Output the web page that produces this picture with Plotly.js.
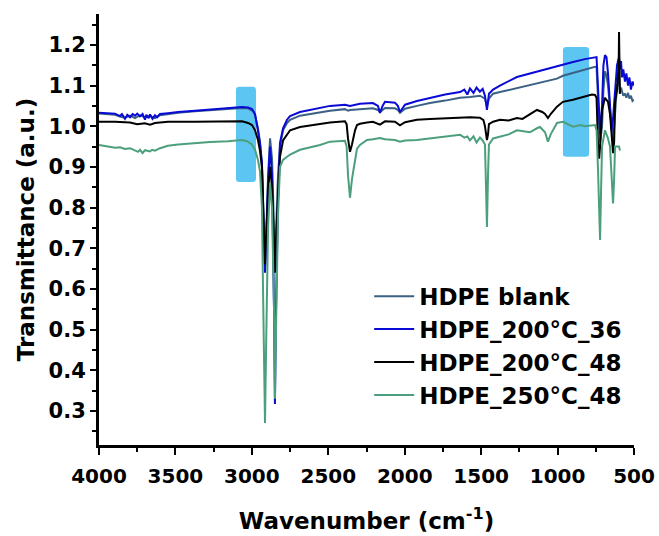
<!DOCTYPE html>
<html>
<head>
<meta charset="utf-8">
<script src="https://cdn.plot.ly/plotly-3.0.1.min.js"></script>
<style>html,body{margin:0;padding:0;background:#fff;}#chart{width:659px;height:536px;}</style>
</head>
<body>
<div id="chart"></div>
<script>
const seriesNames = ["HDPE blank", "HDPE_200°C_36", "HDPE_200°C_48", "HDPE_250°C_48"];

const wnBlank = [4000,3961,3928,3895,3863,3830,3797,3764,3732,3699,3666,3634,3601,3549,3483,3372,3274,3156,3064,3025,2992,2979,2960,2947,2934,2927,2921,2914,2907,2894,2881,2868,2855,2849,2842,2829,2816,2796,2770,2750,2685,2554,2489,2391,2371,2358,2293,2208,2175,2162,2145,2129,2064,2045,2031,2015,1998,1920,1835,1736,1638,1573,1508,1475,1462,1449,1422,1377,1266,1181,1082,1004,965,899,821,755,745,736,722,709,700,690,680,670,657,647,637,624,611,598,592,585,578,570,559,550,539,530,520,510,500];
const tBlank = [1.031,1.030,1.029,1.028,1.024,1.021,1.026,1.020,1.027,1.022,1.025,1.020,1.027,1.030,1.033,1.037,1.040,1.043,1.045,1.044,1.037,1.026,0.995,0.960,0.900,0.800,0.700,0.650,0.720,0.880,0.970,0.920,0.750,0.660,0.740,0.880,0.950,0.990,1.008,1.016,1.026,1.034,1.038,1.042,1.038,1.040,1.042,1.044,1.040,1.034,1.040,1.045,1.044,1.040,1.033,1.038,1.043,1.050,1.057,1.063,1.070,1.072,1.075,1.068,1.050,1.068,1.080,1.084,1.094,1.102,1.110,1.117,1.124,1.131,1.140,1.146,1.145,1.080,0.960,1.000,1.090,1.135,1.125,1.100,1.040,0.990,0.960,1.030,1.100,1.110,1.080,1.095,1.085,1.075,1.080,1.070,1.082,1.068,1.075,1.062,1.065];

const wnB36 = [4000,3961,3928,3895,3863,3850,3830,3815,3797,3780,3764,3750,3732,3715,3699,3690,3675,3666,3650,3634,3620,3601,3549,3483,3372,3274,3156,3110,3064,3025,2999,2979,2960,2947,2934,2927,2921,2914,2907,2894,2881,2868,2855,2849,2842,2829,2816,2796,2770,2750,2685,2554,2489,2391,2358,2293,2208,2175,2162,2145,2129,2064,2045,2031,2015,1998,1920,1835,1736,1638,1610,1590,1573,1550,1530,1508,1490,1475,1462,1455,1449,1422,1377,1266,1181,1082,1004,965,899,821,755,745,736,722,709,700,690,680,670,657,647,637,624,611,598,592,585,578,570,559,550,539,530,520,510,500];
const tB36 = [1.033,1.032,1.030,1.031,1.025,1.030,1.018,1.028,1.022,1.030,1.026,1.031,1.024,1.030,1.016,1.028,1.020,1.029,1.018,1.027,1.022,1.030,1.032,1.035,1.038,1.041,1.045,1.047,1.047,1.046,1.042,1.030,0.991,0.960,0.910,0.800,0.700,0.640,0.700,0.860,0.950,0.880,0.550,0.317,0.550,0.820,0.959,0.995,1.016,1.025,1.035,1.045,1.050,1.053,1.050,1.055,1.057,1.050,1.033,1.050,1.060,1.058,1.050,1.035,1.045,1.053,1.062,1.070,1.078,1.084,1.090,1.078,1.093,1.082,1.095,1.085,1.092,1.075,1.040,1.060,1.080,1.090,1.100,1.121,1.130,1.140,1.148,1.152,1.158,1.165,1.170,1.170,1.100,0.980,1.050,1.150,1.175,1.170,1.130,1.050,0.990,1.020,1.100,1.150,1.170,1.140,1.160,1.120,1.140,1.110,1.130,1.100,1.120,1.090,1.110,1.100];

const wnB48 = [4000,3895,3797,3750,3700,3666,3634,3549,3372,3156,3064,3025,2999,2979,2960,2947,2934,2927,2921,2914,2907,2894,2881,2868,2855,2849,2842,2829,2816,2796,2770,2750,2685,2554,2489,2391,2380,2371,2358,2345,2335,2325,2312,2293,2247,2208,2162,2129,2064,2031,1998,1920,1835,1736,1638,1573,1508,1485,1475,1462,1455,1449,1422,1377,1320,1266,1230,1181,1135,1100,1082,1063,1045,1004,965,899,821,775,755,745,736,728,722,709,690,670,657,645,637,630,624,611,600,598,596,592];
const tB48 = [1.011,1.011,1.009,1.005,1.007,1.004,1.008,1.011,1.011,1.012,1.012,1.008,1.003,0.990,0.966,0.940,0.900,0.820,0.720,0.660,0.720,0.840,0.900,0.850,0.720,0.640,0.720,0.840,0.925,0.965,0.979,0.990,0.998,1.005,1.009,1.012,1.005,0.970,0.937,0.955,0.975,0.990,1.003,1.006,1.009,1.011,1.004,1.012,1.011,1.002,1.010,1.016,1.018,1.020,1.021,1.022,1.021,1.015,1.000,0.966,0.980,1.005,1.011,1.016,1.014,1.020,1.018,1.030,1.040,1.035,1.030,1.020,1.030,1.048,1.060,1.065,1.072,1.078,1.077,1.070,0.960,0.920,0.950,1.040,1.070,1.060,1.030,0.960,0.934,0.960,1.060,1.090,1.150,1.232,1.150,1.080];

const wn250 = [4000,3961,3928,3895,3863,3830,3797,3764,3745,3732,3715,3699,3666,3653,3634,3601,3549,3483,3372,3274,3156,3110,3064,3032,2999,2979,2960,2947,2934,2927,2921,2914,2907,2894,2881,2868,2855,2849,2842,2829,2816,2796,2770,2750,2685,2554,2489,2391,2380,2371,2358,2350,2345,2335,2325,2312,2293,2247,2208,2162,2129,2064,2031,1998,1920,1835,1736,1638,1610,1590,1573,1550,1530,1508,1490,1475,1468,1462,1455,1449,1422,1377,1320,1266,1181,1135,1115,1082,1063,1045,1004,965,899,850,821,755,745,736,728,722,715,709,690,670,657,645,637,630,624,611,598,592];
const t250 = [0.954,0.952,0.950,0.947,0.948,0.944,0.946,0.940,0.937,0.942,0.934,0.941,0.938,0.942,0.940,0.946,0.952,0.955,0.959,0.961,0.963,0.964,0.966,0.963,0.955,0.942,0.917,0.890,0.800,0.600,0.400,0.270,0.450,0.750,0.860,0.800,0.550,0.330,0.500,0.780,0.900,0.917,0.925,0.930,0.942,0.954,0.962,0.964,0.950,0.880,0.824,0.860,0.870,0.893,0.920,0.945,0.954,0.966,0.968,0.971,0.968,0.966,0.962,0.965,0.966,0.970,0.975,0.979,0.972,0.975,0.965,0.975,0.960,0.972,0.965,0.955,0.850,0.752,0.880,0.955,0.970,0.975,0.980,0.990,0.985,0.995,0.998,0.985,0.962,0.980,1.008,1.011,0.999,1.003,1.000,1.003,0.990,0.900,0.800,0.720,0.850,0.950,0.990,0.970,0.950,0.880,0.810,0.870,0.950,0.950,0.950,0.940];

const xTicks = [4000,3500,3000,2500,2000,1500,1000,500];
const yTicks = [0.3,0.4,0.5,0.6,0.7,0.8,0.9,1.0,1.1,1.2];
// highlighted bands: [wn from, wn to], [T low, T high]
const bandWn = [[3104,2973],[965,794]];
const bandT = [[0.863,1.097],[0.925,1.195]];

const colors = ["#3b6185","#0a0ad6","#000000","#4c9f7c"];
const wns = [wnBlank, wnB36, wnB48, wn250];
const ts = [tBlank, tB36, tB48, t250];

const traces = seriesNames.map((n,i)=>({
  x: wns[i], y: ts[i], name: n, type: 'scatter', mode: 'lines',
  line: {color: colors[i], width: 2}, hoverinfo: 'skip'
}));

const font = {family: '"DejaVu Sans", Arial, sans-serif', color: '#000', weight: 700};

// rounded rectangles for the highlighted bands
function roundedPath(xa, xb, ya, yb) {
  const x0 = Math.max(xa, xb), x1 = Math.min(xa, xb);
  const y0 = Math.min(ya, yb), y1 = Math.max(ya, yb);
  const rx = 22, ry = 0.008;
  return `M${x0 - rx},${y0} L${x1 + rx},${y0} Q${x1},${y0} ${x1},${y0 + ry} ` +
         `L${x1},${y1 - ry} Q${x1},${y1} ${x1 + rx},${y1} L${x0 - rx},${y1} ` +
         `Q${x0},${y1} ${x0},${y1 - ry} L${x0},${y0 + ry} Q${x0},${y0} ${x0 - rx},${y0} Z`;
}
const shapes = bandWn.map((b,i)=>({
  type: 'path', xref: 'x', yref: 'y', layer: 'below',
  path: roundedPath(b[0], b[1], bandT[i][0], bandT[i][1]),
  fillcolor: '#5cc5f2', line: {width: 0}
}));

const layout = {
  width: 659, height: 536,
  margin: {l: 99, r: 25, t: 14, b: 91},
  paper_bgcolor: '#fff', plot_bgcolor: '#fff',
  showlegend: true,
  legend: {x: 0.505, y: 0.395, xanchor: 'left', yanchor: 'top',
    font: Object.assign({}, font, {size: 23}), bgcolor: 'rgba(0,0,0,0)', itemwidth: 40},
  xaxis: {
    range: [4000, 500], tickvals: xTicks, ticktext: xTicks.map(String),
    ticks: 'outside', ticklen: 7, tickwidth: 2, tickcolor: '#000',
    minor: {ticks: 'outside', ticklen: 4, tickwidth: 2, tickcolor: '#000', dtick: 250, tick0: 500},
    showline: true, linewidth: 3, linecolor: '#000', mirror: false,
    showgrid: false, zeroline: false, ticklabelstandoff: 4,
    tickfont: Object.assign({}, font, {size: 20}),
    title: {text: 'Wavenumber (cm<sup>-1</sup>)', font: Object.assign({}, font, {size: 23}), standoff: 26}
  },
  yaxis: {
    range: [0.216, 1.276], tickvals: yTicks, ticktext: yTicks.map(v=>v.toFixed(1)),
    ticks: 'outside', ticklen: 6, tickwidth: 2, tickcolor: '#000',
    minor: {ticks: 'outside', ticklen: 4, tickwidth: 2, tickcolor: '#000', dtick: 0.05, tick0: 0.25},
    showline: true, linewidth: 3, linecolor: '#000', mirror: false,
    showgrid: false, zeroline: false,
    tickfont: Object.assign({}, font, {size: 21}),
    title: {text: 'Transmittance (a.u.)', font: Object.assign({}, font, {size: 23}), standoff: 8}
  },
  shapes: shapes
};

Plotly.newPlot('chart', traces, layout, {displayModeBar: false, staticPlot: true});
</script>
</body>
</html>
